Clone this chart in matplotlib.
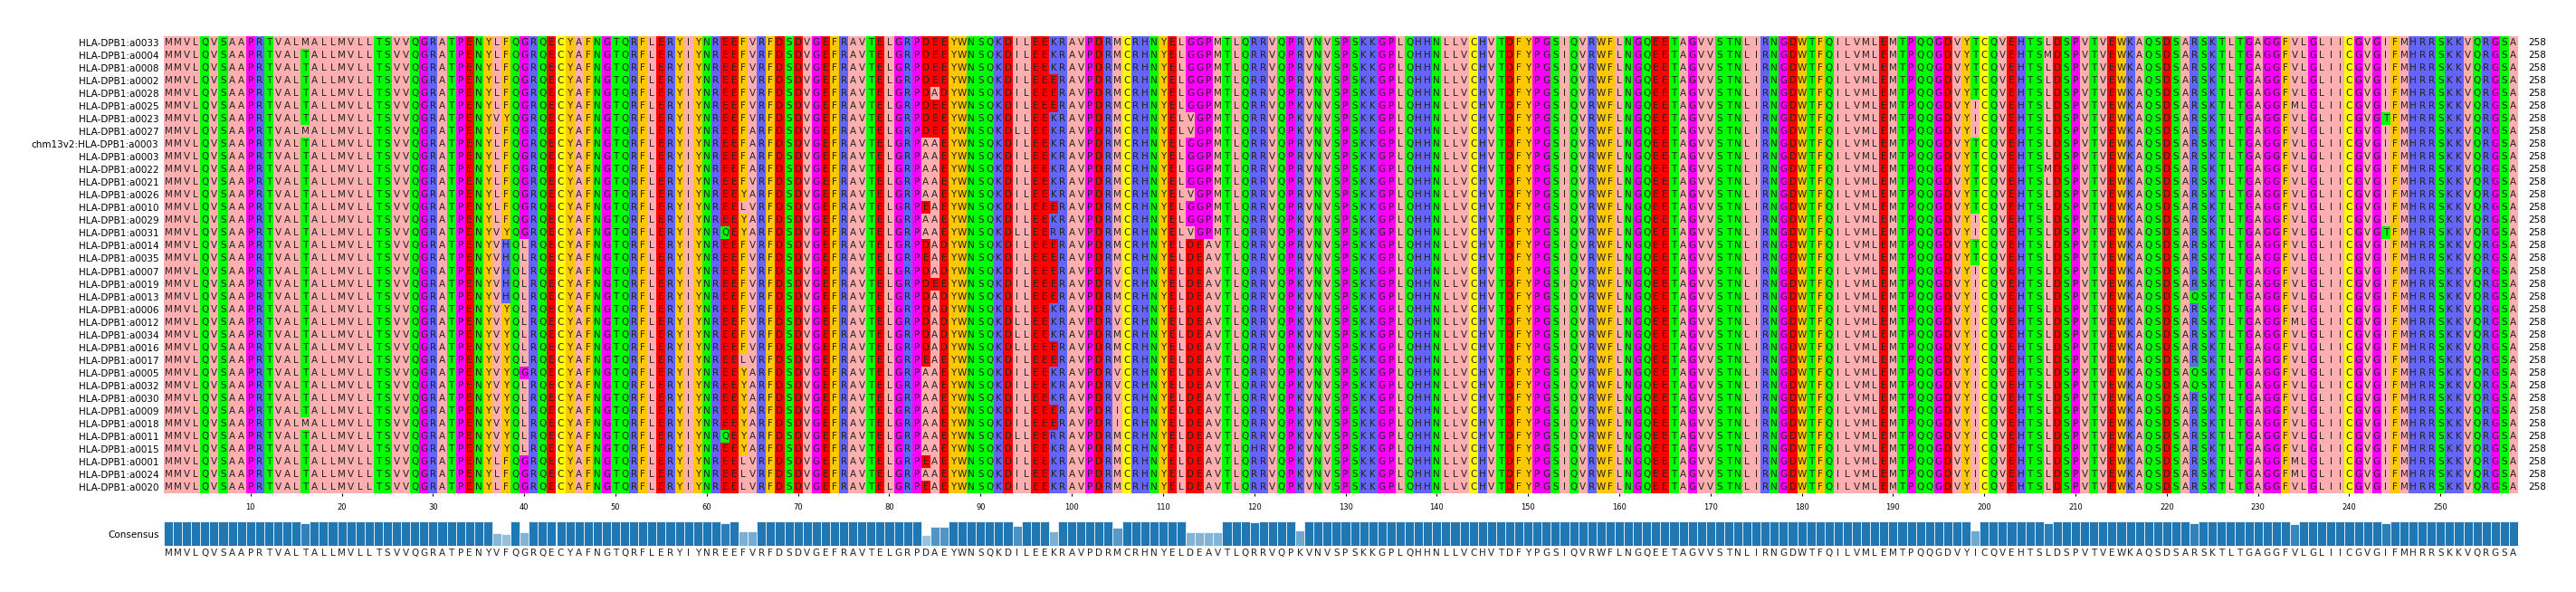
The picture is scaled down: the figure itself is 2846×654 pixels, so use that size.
"""HLA-DPB1 protein alignment with Zappo colouring and a consensus track."""
import matplotlib
matplotlib.use("Agg")
import matplotlib.pyplot as plt
from matplotlib.colors import to_rgb
from collections import Counter

REFERENCE = ("MMVLQVSAAPRTVALTALLMVLLTSVVQGRATPENYVFQGRQECYAFNGTQRFLERYIYN"
             "REEFVRFDSDVGEFRAVTELGRPDAEYWNSQKDILEEKRAVPDRMCRHNYELDEAVTLQRR"
             "VQPKVNVSPSKKGPLQHHNLLVCHVTDFYPGSIQVRWFLNGQEETAGVVSTNLIRNGDWTF"
             "QILVMLEMTPQQGDVYICQVEHTSLDSPVTVEWKAQSDSARSKTLTGAGGFVLGLIICGVG"
             "IFMHRRSKKVQRGSA")

NAMES = ["HLA-DPB1:a0033", "HLA-DPB1:a0004", "HLA-DPB1:a0008", "HLA-DPB1:a0002",
         "HLA-DPB1:a0028", "HLA-DPB1:a0025", "HLA-DPB1:a0023", "HLA-DPB1:a0027",
         "chm13v2:HLA-DPB1:a0003", "HLA-DPB1:a0003", "HLA-DPB1:a0022", "HLA-DPB1:a0021",
         "HLA-DPB1:a0026", "HLA-DPB1:a0010", "HLA-DPB1:a0029", "HLA-DPB1:a0031",
         "HLA-DPB1:a0014", "HLA-DPB1:a0035", "HLA-DPB1:a0007", "HLA-DPB1:a0019",
         "HLA-DPB1:a0013", "HLA-DPB1:a0006", "HLA-DPB1:a0012", "HLA-DPB1:a0034",
         "HLA-DPB1:a0016", "HLA-DPB1:a0017", "HLA-DPB1:a0005", "HLA-DPB1:a0032",
         "HLA-DPB1:a0030", "HLA-DPB1:a0009", "HLA-DPB1:a0018", "HLA-DPB1:a0011",
         "HLA-DPB1:a0015", "HLA-DPB1:a0001", "HLA-DPB1:a0024", "HLA-DPB1:a0020"]

# per-row differences from REFERENCE, {position (1-based): residue}
LF = {37: "L"}
YQL = {38: "Y", 40: "L"}
HQL = {38: "H", 40: "L"}
VARIANTS = [
    {16: "M", **LF, 85: "E", 113: "G", 114: "G", 115: "P", 116: "M", 125: "R", 199: "T"},
    {**LF, 85: "E", 113: "G", 114: "G", 115: "P", 116: "M", 125: "R", 199: "T", 207: "M"},
    {**LF, 85: "E", 113: "G", 114: "G", 115: "P", 116: "M", 125: "R", 199: "T"},
    {**LF, 85: "E", 98: "E", 113: "G", 114: "G", 115: "P", 116: "M", 125: "R", 199: "T"},
    {**LF, 86: "D", 98: "E", 113: "G", 114: "G", 115: "P", 116: "M", 125: "R", 199: "T"},
    {**LF, 85: "E", 98: "E", 113: "G", 114: "G", 115: "P", 116: "M", 234: "M"},
    {38: "Y", 85: "E", 113: "V", 114: "G", 115: "P", 116: "M", 244: "T"},
    {16: "M", **LF, 65: "A", 85: "E", 94: "L", 113: "V", 114: "G", 115: "P", 116: "M"},
    {**LF, 65: "A", 84: "A", 113: "G", 114: "G", 115: "P", 116: "M", 125: "R", 199: "T"},
    {**LF, 65: "A", 84: "A", 113: "G", 114: "G", 115: "P", 116: "M", 125: "R", 199: "T"},
    {**LF, 65: "A", 84: "A", 113: "G", 114: "G", 115: "P", 116: "M", 125: "R", 199: "T", 207: "M"},
    {**LF, 84: "A", 113: "G", 114: "G", 115: "P", 116: "M", 125: "R", 199: "T"},
    {**LF, 64: "Y", 65: "A", 84: "A", 113: "V", 114: "G", 115: "P", 116: "M", 125: "R", 199: "T"},
    {**LF, 64: "L", 84: "E", 98: "E", 113: "G", 114: "G", 115: "P", 116: "M", 125: "R", 199: "T"},
    {**LF, 64: "Y", 65: "A", 84: "A", 113: "G", 114: "G", 115: "P", 116: "M"},
    {38: "Y", 62: "Q", 64: "Y", 65: "A", 84: "A", 94: "L", 98: "R", 113: "V", 114: "G",
     115: "P", 116: "M", 244: "T"},
    {**HQL, 86: "D", 98: "E", 125: "R", 199: "T"},
    {**HQL, 84: "E", 98: "E", 125: "R", 199: "T"},
    {**HQL, 86: "D", 98: "E", 105: "V"},
    {**HQL, 85: "E", 98: "E", 105: "V"},
    {**HQL, 86: "D", 98: "E", 223: "Q"},
    {**YQL, 86: "D", 94: "L", 105: "V"},
    {**YQL, 86: "D", 94: "L", 105: "V", 234: "M"},
    {**YQL, 86: "D", 94: "L"},
    {**YQL, 86: "D", 94: "L", 98: "E"},
    {**YQL, 64: "L", 84: "E", 98: "E"},
    {38: "Y", 64: "Y", 65: "A", 84: "A", 105: "V", 223: "Q"},
    {**YQL, 64: "Y", 65: "A", 84: "A", 105: "V", 223: "Q"},
    {**YQL, 64: "Y", 65: "A", 84: "A", 105: "V"},
    {**YQL, 64: "Y", 65: "A", 84: "A", 98: "E", 105: "I"},
    {16: "M", **YQL, 64: "Y", 65: "A", 84: "A", 98: "E", 105: "I"},
    {**YQL, 62: "Q", 64: "Y", 65: "A", 84: "A", 94: "L", 98: "R"},
    {**YQL, 64: "Y", 65: "A", 84: "A", 120: "H"},
    {**LF, 64: "L", 84: "E", 234: "M"},
    {**LF, 64: "L", 84: "A", 234: "M"},
    {**LF, 64: "L", 84: "E"},
]

ZAPPO = {**dict.fromkeys("ILVAM", "#ffafaf"), **dict.fromkeys("FWY", "#ffc800"),
         **dict.fromkeys("KRH", "#6464ff"), **dict.fromkeys("DE", "#ff0000"),
         **dict.fromkeys("STNQ", "#00ff00"), **dict.fromkeys("PG", "#ff00ff"), "C": "#ffff00"}


def build_seq(var):
    s = list(REFERENCE)
    for pos, aa in var.items():
        s[pos - 1] = aa
    return "".join(s)


seqs = [build_seq(v) for v in VARIANTS]
n_rows, n_cols = len(seqs), len(REFERENCE)

# consensus residue and its frequency per column
consensus, score = [], []
for j in range(n_cols):
    aa, cnt = Counter(s[j] for s in seqs).most_common(1)[0]
    consensus.append(aa)
    score.append(cnt / n_rows)

W, H = 2846, 654
fig = plt.figure(figsize=(W / 100, H / 100), dpi=100)
left, right = 181 / W, 2782 / W
ax = fig.add_axes([left, 1 - 545 / H, right - left, 505 / H])
for i, s in enumerate(seqs):
    for j, aa in enumerate(s):
        ax.add_patch(plt.Rectangle((j + 0.5, i - 0.5), 1, 1, color=ZAPPO[aa], lw=0))
        ax.text(j + 1, i, aa, ha="center", va="center", fontsize=7.5, color="#222")
    ax.text(n_cols + 1.6, i, str(n_cols), ha="left", va="center", fontsize=7.5)
ax.set_xlim(0.5, n_cols + 0.5)
ax.set_ylim(n_rows - 0.5, -0.5)
ax.set_yticks(range(n_rows))
ax.set_yticklabels(NAMES, fontsize=7.5)
ax.set_xticks(range(10, n_cols + 1, 10))
ax.tick_params(axis="x", labelsize=6, length=2, pad=6)
ax.tick_params(axis="y", length=0, pad=4)
for sp in ax.spines.values():
    sp.set_visible(False)

blue = to_rgb("#1f77b4")
cax = fig.add_axes([left, 1 - 603 / H, right - left, 27 / H])
cols = [tuple(1 - v * (1 - c) for c in blue) for v in score]
cax.bar(range(1, n_cols + 1), score, width=1.0, color=cols, edgecolor="white", linewidth=0.5)
for j, aa in enumerate(consensus):
    cax.text(j + 1, -0.12, aa, ha="center", va="top", fontsize=7.5, color="#222")
cax.set_xlim(0.5, n_cols + 0.5)
cax.set_ylim(0, 1)
cax.set_xticks([])
cax.set_yticks([0.5])
cax.set_yticklabels(["Consensus"], fontsize=7.5)
cax.tick_params(axis="y", length=0, pad=4)
for sp in cax.spines.values():
    sp.set_visible(False)

fig.savefig("out.png", dpi=100)
